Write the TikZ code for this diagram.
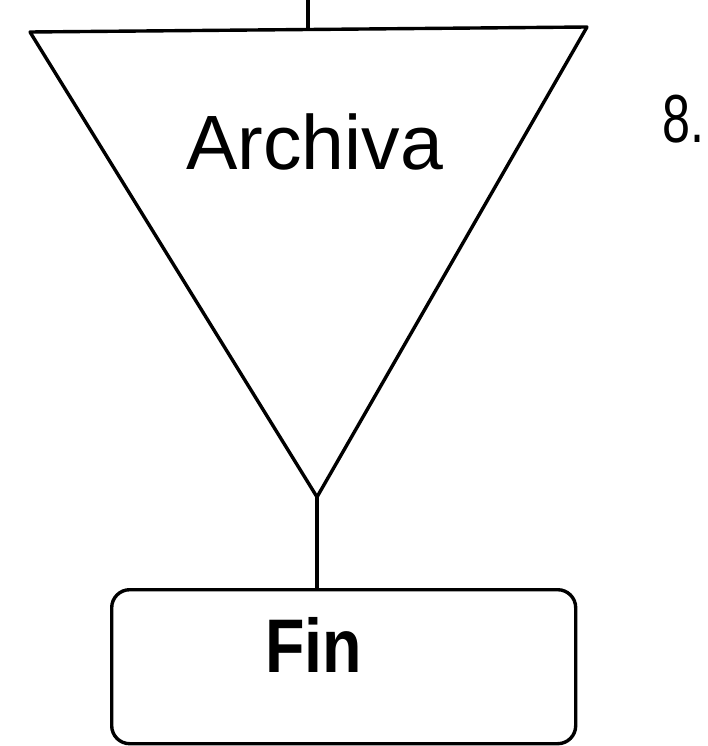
\documentclass[tikz,border=0pt]{standalone}
\usepackage{fontspec}
\setmainfont{Liberation Sans}
\begin{document}
\begin{tikzpicture}[x=1pt,y=-1pt,
  outline/.style={draw=black,line width=3.4pt,line join=round},
  lbl/.style={inner sep=0pt,anchor=base west},
  bigtext/.style={font=\fontsize{77}{77}\selectfont}]
\useasboundingbox (0,0) rectangle (707,746);
% storage symbol: inverted triangle
\coordinate (tl) at (30,32);
\coordinate (tr) at (587,27);
\coordinate (apex) at (317,497);
\draw[outline] (tl) -- (tr) -- (apex) -- cycle;
% incoming flow from above
\coordinate (top) at (308,0);
\coordinate (entry) at (308,29.5);
\draw[outline] (top) -- (entry);
\node[lbl,bigtext] (archiva) at (186,170) {Archiva};
% step number
\node[lbl,font=\fontsize{68}{68}\selectfont] (num) at (662,143) {\scalebox{0.74}[1]{8.}};
% terminator box
\node[draw,line width=3.4pt,rounded corners=18pt,minimum width=464pt,
      minimum height=154pt,anchor=north west,inner sep=0pt] (finbox) at (110,588) {};
\node[lbl,font=\fontsize{76}{76}\selectfont\bfseries] (fin) at (265,672) {\scalebox{0.85}[1]{Fin}};
\draw[outline] (apex) -- (apex |- finbox.north);
\end{tikzpicture}
\end{document}
